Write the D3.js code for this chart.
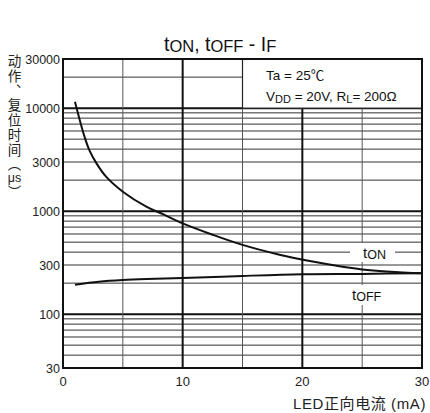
<!DOCTYPE html>
<html>
<head>
<meta charset="utf-8">
<script src="https://cdn.jsdelivr.net/npm/d3@7"></script>
<style>
  body { margin: 0; background: #fff; }
  svg { display: block; font-family: "Liberation Sans", Arial, "Noto Sans CJK SC", sans-serif; }
</style>
</head>
<body>
<svg id="chart" width="430" height="413"></svg>
<script>
// LED forward current (mA) and switching times (us)
const ifOn = [1, 1.4, 1.8, 2.2, 2.8, 3.6, 5, 7, 8.4, 10, 12.5, 15, 18, 20.5, 25, 30];
const tOn = [11550, 7670, 5280, 3920, 2910, 2160, 1545, 1100, 930, 760, 590, 470, 380, 330, 272, 249];
const ifOff = [1, 3, 5, 7, 10, 15, 20, 25, 30];
const tOff = [193, 206, 214, 219, 224, 235, 244, 246, 250];

const xTicks = [0, 10, 20, 30];
const xGrid = [5, 10, 15, 20, 25];
const yTickLabels = [30, 100, 300, 1000, 3000, 10000, 30000];
const yMajor = [100, 1000, 10000];

const svg = d3.select("#chart");
const plotL = 63, plotR = 422, plotT = 59, plotB = 368;

const x = d3.scaleLinear().domain([0, 30]).range([plotL, plotR]);
const y = d3.scaleLog().domain([30, 30000]).range([plotB, plotT]);

// horizontal grid (log minors + majors)
const yGrid = y.ticks().filter(v => v > 30 && v < 30000);
svg.append("g").selectAll("line")
  .data(yGrid)
  .enter().append("line")
    .attr("x1", plotL).attr("x2", plotR)
    .attr("y1", d => y(d)).attr("y2", d => y(d))
    .attr("stroke", d => yMajor.includes(d) ? "#111" : "#333")
    .attr("stroke-width", d => yMajor.includes(d) ? 2 : 1);

// vertical grid
svg.append("g").selectAll("line")
  .data(xGrid)
  .enter().append("line")
    .attr("x1", d => x(d)).attr("x2", d => x(d))
    .attr("y1", plotT).attr("y2", plotB)
    .attr("stroke", d => d % 10 === 0 ? "#111" : "#555")
    .attr("stroke-width", d => d % 10 === 0 ? 2 : 1);

// condition box
svg.append("rect")
  .attr("x", x(15)).attr("y", y(30000))
  .attr("width", x(30) - x(15)).attr("height", y(10000) - y(30000))
  .attr("fill", "#fff").attr("stroke", "#222").attr("stroke-width", 1.2);

const box = svg.append("text").attr("font-size", 13.5).attr("fill", "#111");
box.append("tspan").attr("x", 266).attr("y", 80).text("Ta = 25℃");
const l2 = svg.append("text").attr("x", 266).attr("y", 101).attr("font-size", 13.5).attr("fill", "#111");
l2.append("tspan").text("V");
l2.append("tspan").attr("font-size", 11).attr("dy", 2).text("DD");
l2.append("tspan").attr("dy", -2).text(" = 20V, R");
l2.append("tspan").attr("font-size", 11).attr("dy", 2).text("L");
l2.append("tspan").attr("dy", -2).text("= 200Ω");

// label backgrounds
svg.append("rect").attr("x", 350).attr("y", 243).attr("width", 45).attr("height", 19).attr("fill", "#fff");
svg.append("rect").attr("x", 349).attr("y", 285).attr("width", 36).attr("height", 20).attr("fill", "#fff");

// frame
svg.append("rect")
  .attr("x", plotL).attr("y", plotT)
  .attr("width", plotR - plotL).attr("height", plotB - plotT)
  .attr("fill", "none").attr("stroke", "#111").attr("stroke-width", 2);

// curves
const line = d3.line().curve(d3.curveCatmullRom.alpha(0.5));
svg.append("path")
  .attr("d", line(ifOn.map((v, i) => [x(v), y(tOn[i])])))
  .attr("fill", "none").attr("stroke", "#111").attr("stroke-width", 2);
svg.append("path")
  .attr("d", line(ifOff.map((v, i) => [x(v), y(tOff[i])])))
  .attr("fill", "none").attr("stroke", "#111").attr("stroke-width", 2);

// curve labels
const lOn = svg.append("text").attr("x", 363).attr("y", 258).attr("font-size", 15).attr("fill", "#111");
lOn.append("tspan").text("t");
lOn.append("tspan").attr("font-size", 12.5).attr("dy", 1).text("ON");
const lOff = svg.append("text").attr("x", 352).attr("y", 300).attr("font-size", 15).attr("fill", "#111");
lOff.append("tspan").text("t");
lOff.append("tspan").attr("font-size", 12.5).attr("dy", 1).text("OFF");

// y tick labels
svg.append("g").selectAll("text")
  .data(yTickLabels)
  .enter().append("text")
    .attr("x", 60).attr("y", d => y(d) + 4.5)
    .attr("text-anchor", "end").attr("font-size", 12.5).attr("fill", "#222")
    .text(d => d);

// x tick labels
svg.append("g").selectAll("text")
  .data(xTicks)
  .enter().append("text")
    .attr("x", d => x(d)).attr("y", 386)
    .attr("text-anchor", "middle").attr("font-size", 13).attr("fill", "#222")
    .text(d => d);

// x title
svg.append("text")
  .attr("x", 426).attr("y", 409).attr("text-anchor", "end")
  .attr("font-size", 15).attr("letter-spacing", 0.6).attr("fill", "#222")
  .text("LED正向电流 (mA)");

// y title: vertical CJK run, then horizontal "μs", then closing bracket
svg.append("text")
  .attr("x", 14.5).attr("y", 54.5)
  .attr("font-family", "Noto Sans CJK SC, sans-serif")
  .attr("font-size", 13.5).attr("letter-spacing", 1.2).attr("fill", "#222")
  .style("writing-mode", "vertical-rl")
  .text("动作、复位时间（");
svg.append("text")
  .attr("x", 14.5).attr("y", 182).attr("text-anchor", "middle")
  .attr("font-size", 12.5).attr("fill", "#222")
  .text("μs");
svg.append("text")
  .attr("x", 14.5).attr("y", 185)
  .attr("font-family", "Noto Sans CJK SC, sans-serif")
  .attr("font-size", 13.5).attr("fill", "#222")
  .style("writing-mode", "vertical-rl")
  .text("）");

// title
const title = svg.append("text").attr("x", 164).attr("y", 51).attr("font-size", 19.5).attr("fill", "#111");
title.append("tspan").text("t");
title.append("tspan").attr("font-size", 16.5).attr("dy", 1).text("ON");
title.append("tspan").attr("dy", -1).text(", t");
title.append("tspan").attr("font-size", 16.5).attr("dy", 1).text("OFF");
title.append("tspan").attr("dy", -1).text(" - I");
title.append("tspan").attr("font-size", 16.5).attr("dy", 1).text("F");
</script>
</body>
</html>
